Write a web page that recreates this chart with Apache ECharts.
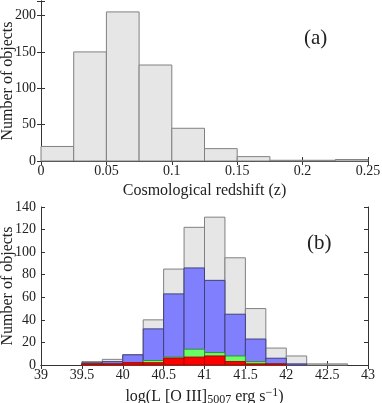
<!DOCTYPE html>
<html><head><meta charset="utf-8">
<script src="https://cdn.jsdelivr.net/npm/echarts@6/dist/echarts.min.js"></script>
<style>html,body{margin:0;padding:0;background:#fff}#c{width:382px;height:403px}</style>
</head><body><div id="c"></div>
<script>
// Panel (a): redshift histogram
const zBinWidth = 0.025;
const zBinStarts = [0, 0.025, 0.05, 0.075, 0.1, 0.125, 0.15, 0.175, 0.2, 0.225];
const zCounts = [20, 150, 205, 132, 45, 17, 6, 1, 1, 2];
const zTicks = [0, 0.05, 0.1, 0.15, 0.2, 0.25];

// Panel (b): [O III] luminosity histogram
const lBinWidth = 0.25;
const lBinStarts = [39.5, 39.75, 40, 40.25, 40.5, 40.75, 41, 41.25, 41.5, 41.75, 42, 42.25, 42.5];
const totalCounts = [3, 5, 9, 40, 85, 122, 131, 95, 50, 15, 8, 1, 1];
const blueCounts  = [2, 3, 9, 32, 63, 86, 75, 45, 23, 6, 1, 0, 0];
const greenCounts = [1, 1, 2, 4, 7, 14, 11, 8, 3, 1, 0, 0, 0];
const redCounts   = [1, 1, 2, 2, 6, 7, 8, 3, 1, 1, 0, 0, 0];
const lTicks = [39, 39.5, 40, 40.5, 41, 41.5, 42, 42.5, 43];

const FONT = 'Liberation Serif';
const AX = '#333';

function histData(starts, counts, w) {
  return starts.map((s, i) => [s, s + w, counts[i]]);
}
function histSeries(name, xi, yi, data, fill, stroke, z) {
  return {
    name, type: 'custom', xAxisIndex: xi, yAxisIndex: yi, z,
    data, encode: {x: [0, 1], y: 2},
    renderItem: function (params, api) {
      const v = api.value(2);
      if (!v) return null;
      const p0 = api.coord([api.value(0), 0]);
      const p1 = api.coord([api.value(1), v]);
      return {
        type: 'rect',
        shape: {x: p0[0], y: p1[1], width: p1[0] - p0[0], height: p0[1] - p1[1]},
        style: {fill: fill, stroke: stroke, lineWidth: 1}
      };
    }
  };
}

const labelStyle = {fontFamily: FONT, fontSize: 14, color: '#222'};
function mainX(grid, min, max, interval, name, nameRich) {
  return {
    type: 'value', gridIndex: grid, min, max, interval,
    axisLine: {lineStyle: {color: AX, width: 1}},
    axisTick: {inside: true, length: 4, lineStyle: {color: AX}},
    splitLine: {show: false},
    axisLabel: Object.assign({margin: 3}, labelStyle),
    name, nameLocation: 'middle', nameGap: 22, nameMoveOverlap: false,
    nameTextStyle: Object.assign({fontFamily: FONT, fontSize: 16, color: '#222'}, nameRich ? {rich: nameRich} : {})
  };
}
function mirrorX(grid, min, max, interval) {
  return {
    type: 'value', gridIndex: grid, position: 'top', min, max, interval,
    axisLine: {lineStyle: {color: AX}},
    axisTick: {inside: true, length: 4, lineStyle: {color: AX}},
    axisLabel: {show: false}, splitLine: {show: false}
  };
}
function mainY(grid, min, max, interval) {
  return {
    type: 'value', gridIndex: grid, min, max, interval,
    axisLine: {show: true, lineStyle: {color: AX}},
    axisTick: {show: true, inside: true, length: 4, lineStyle: {color: AX}},
    splitLine: {show: false},
    axisLabel: Object.assign({margin: 5,
      formatter: v => (Math.abs(v / interval - Math.round(v / interval)) < 1e-6 ? String(v) : '')}, labelStyle),
    name: 'Number of objects', nameLocation: 'middle', nameGap: 25, nameMoveOverlap: false,
    nameTextStyle: {fontFamily: FONT, fontSize: 16, color: '#222'}
  };
}
function mirrorY(grid, min, max, interval) {
  return {
    type: 'value', gridIndex: grid, position: 'right', min, max, interval,
    axisLine: {show: true, lineStyle: {color: AX}},
    axisTick: {show: true, inside: true, length: 4, lineStyle: {color: AX}},
    axisLabel: {show: false}, splitLine: {show: false}
  };
}

const option = {
  animation: false,
  backgroundColor: '#fff',
  grid: [
    {left: 41, right: 14, top: 1, height: 160, containLabel: false, outerBoundsMode: 'none'},
    {left: 41, right: 14, top: 207, height: 158, containLabel: false, outerBoundsMode: 'none'}
  ],
  xAxis: [
    mainX(0, 0, 0.25, 0.05, 'Cosmological redshift (z)'),
    mirrorX(0, 0, 0.25, 0.05),
    mainX(1, 39, 43, 0.5, '{n|log(L [O III]}{sub|5007}{n| erg s}{sup|−1}{n|)}', {
      n: {fontFamily: FONT, fontSize: 16, color: '#222'},
      sub: {fontFamily: FONT, fontSize: 12, color: '#222', verticalAlign: 'bottom', padding: [7, 0, 0, 0]},
      sup: {fontFamily: FONT, fontSize: 12, color: '#222', verticalAlign: 'top', padding: [0, 0, 7, 0]}
    }),
    mirrorX(1, 39, 43, 0.5)
  ],
  yAxis: [
    mainY(0, 0, 220, 50),
    mirrorY(0, 0, 220, 50),
    mainY(1, 0, 140, 20),
    mirrorY(1, 0, 140, 20)
  ],
  graphic: [
    {type: 'text', left: 304, top: 28, style: {text: '(a)', font: '21px "Liberation Serif"', fill: '#222'}},
    {type: 'text', left: 307, top: 233, style: {text: '(b)', font: '21px "Liberation Serif"', fill: '#222'}}
  ],
  series: [
    histSeries('z', 0, 0, histData(zBinStarts, zCounts, zBinWidth), '#e6e6e6', '#808080', 2),
    histSeries('total', 2, 2, histData(lBinStarts, totalCounts, lBinWidth), '#e6e6e6', '#808080', 2),
    histSeries('blue', 2, 2, histData(lBinStarts, blueCounts, lBinWidth), '#8080ff', '#40407a', 3),
    histSeries('green', 2, 2, histData(lBinStarts, greenCounts, lBinWidth), '#66ff66', '#3a8a3a', 4),
    histSeries('red', 2, 2, histData(lBinStarts, redCounts, lBinWidth), '#ff0000', '#aa0000', 5)
  ]
};
const chart = echarts.init(document.getElementById('c'), null, {renderer: 'canvas'});
chart.setOption(option);
</script></body></html>
